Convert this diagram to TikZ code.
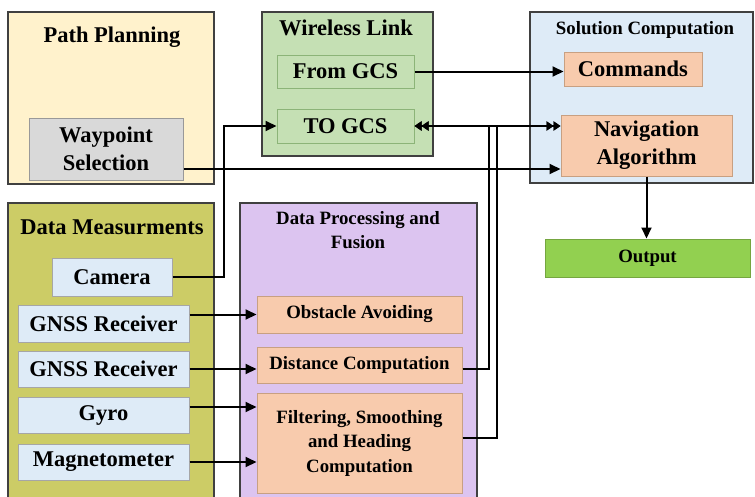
\documentclass[tikz,border=0pt]{standalone}
\usepackage{fontspec}
\setmainfont{Liberation Serif}
\usetikzlibrary{arrows.meta}

\definecolor{planfill}{RGB}{255,242,204}
\definecolor{wayfill}{RGB}{217,217,217}
\definecolor{linkfill}{RGB}{197,224,180}
\definecolor{linkedge}{RGB}{140,180,120}
\definecolor{solfill}{RGB}{222,235,247}
\definecolor{procfill}{RGB}{248,203,173}
\definecolor{procedge}{RGB}{200,160,130}
\definecolor{outfill}{RGB}{146,208,80}
\definecolor{measfill}{RGB}{204,204,102}
\definecolor{fusefill}{RGB}{220,196,240}
\definecolor{sensfill}{RGB}{222,235,247}

\begin{document}
\begin{tikzpicture}[
            x=1pt, y=-1pt,
            font=\bfseries\fontsize{22.5}{28}\selectfont,
            small/.style={font=\bfseries\fontsize{18.8}{24.5}\selectfont},
            panel/.style={draw=black!75, line width=2pt},
            item/.style={draw, line width=1pt, align=center, inner sep=0pt},
            sensor/.style={item, fill=sensfill, draw=black!35},
            proc/.style={item, fill=procfill, draw=procedge},
            gcs/.style={item, fill=linkfill, draw=linkedge},
            flow/.style={-{Triangle[length=11pt, width=10pt]}, line width=2pt},
            dflow/.style={-{Triangle[length=7pt, width=9pt]Triangle[length=7pt, width=9pt]},
                          line width=2pt}
        ]
        \useasboundingbox (0,0) rectangle (755,496);
        \clip (0,0) rectangle (755,496);

        % --- Path Planning ---
        \node[panel, fill=planfill, minimum width=206pt, minimum height=172pt] (plan) at (111,98) {};
        \node (plantit) at (112,37) {Path Planning};
        \node[item, fill=wayfill, draw=black!40, minimum width=154pt, minimum height=62pt]
            (wp) at (106,149) {Waypoint\\Selection};

        % --- Wireless Link ---
        \node[panel, fill=linkfill, minimum width=171pt, minimum height=144pt] (wl) at (347.5,84) {};
        \node (wltit) at (346,28) {Wireless Link};
        \node[gcs, minimum width=137pt, minimum height=33pt] (fromgcs) at (345.5,71.5) {From GCS};
        \node[gcs, minimum width=137pt, minimum height=34pt] (togcs) at (345.5,126) {TO GCS};

        % --- Solution Computation ---
        \node[panel, fill=solfill, minimum width=223pt, minimum height=171pt] (sol) at (641.5,97.5) {};
        \node[small] (soltit) at (645,30) {Solution Computation};
        \node[proc, minimum width=138pt, minimum height=34pt] (cmd) at (633,69) {Commands};
        \node[proc, minimum width=171pt, minimum height=61pt] (nav) at (646.5,145.5) {Navigation\\Algorithm};
        \node[item, small, fill=outfill, draw=outfill!80!black, minimum width=205pt, minimum height=38pt]
            (out) at (647.5,258) {Output};

        % --- Data Measurments ---
        \node[panel, fill=measfill, minimum width=206pt, minimum height=307pt] (meas) at (111,356.5) {};
        \node (meastit) at (112,227) {Data Measurments};
        \node[sensor, minimum width=120pt, minimum height=38pt] (cam) at (112,277) {Camera};
        \node[sensor, minimum width=171pt, minimum height=37pt] (gnssa) at (103.5,323.5) {GNSS Receiver};
        \node[sensor, minimum width=171pt, minimum height=36pt] (gnssb) at (103.5,369) {GNSS Receiver};
        \node[sensor, minimum width=171pt, minimum height=36pt] (gyro) at (103.5,415) {Gyro};
        \node[sensor, minimum width=171pt, minimum height=36pt] (mag) at (103.5,462) {Magnetometer};

        % --- Data Processing and Fusion ---
        \node[panel, fill=fusefill, minimum width=237pt, minimum height=307pt] (fuse) at (358.5,356.5) {};
        \node[small, align=center] (fusetit) at (358,230) {Data Processing and\\Fusion};
        \node[proc, small, minimum width=205pt, minimum height=37pt] (obst) at (359.5,314.5) {Obstacle Avoiding};
        \node[proc, small, minimum width=205pt, minimum height=36pt] (dist) at (359.5,365) {Distance Computation};
        \node[proc, small, minimum width=205pt, minimum height=100pt] (filt) at (359.5,443)
            {Filtering, Smoothing\\and Heading\\Computation};

        % --- Conexiones ---
        \draw[flow] (cam.east) -- ++(51,0) |- (togcs.west);
        \draw[flow] ([yshift=-20pt]wp.east) -- ([yshift=-20pt]wp.east -| nav.west);
        \draw[flow] (fromgcs.east) -- (fromgcs.east -| cmd.west);
        \draw[flow] (gnssa.east |- obst.west) -- (obst.west);
        \draw[flow] (gnssb.east) -- (gnssb.east -| dist.west);
        \draw[flow] ([yshift=8pt]gyro.east) -- ([yshift=8pt]gyro.east -| filt.west);
        \draw[flow] (mag.east) -- (mag.east -| filt.west);
        \draw[dflow] ([yshift=-4pt]dist.east) -- ++(26,0) |- (togcs.east);
        \draw[dflow] ([yshift=-4pt]dist.east) -- ++(26,0) |- (togcs.east -| nav.west);
        \draw[dflow] ([yshift=5pt]filt.east) -- ++(34,0) |- (togcs.east);
        \draw[dflow] ([yshift=5pt]filt.east) -- ++(34,0) |- (togcs.east -| nav.west);
        \draw[flow] (nav.south) -- (nav.south |- out.north);

\end{tikzpicture}
\end{document}
